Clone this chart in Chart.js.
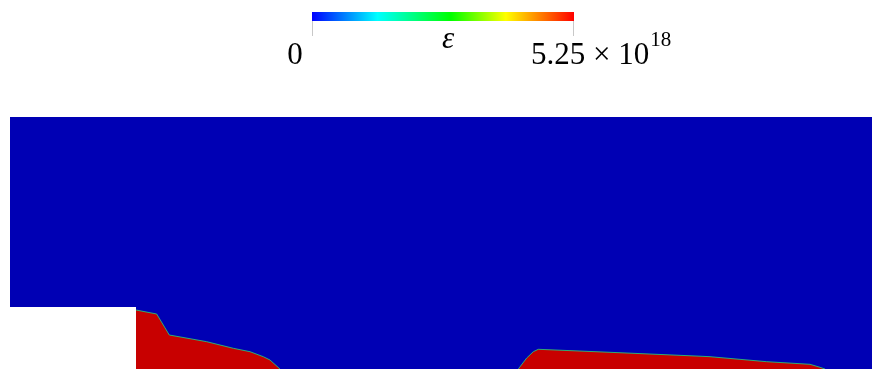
<!DOCTYPE html>
<html>
<head>
<meta charset="utf-8">
<script src="https://cdn.jsdelivr.net/npm/chart.js@4"></script>
<style>
  body { margin: 0; background: #fff; }
  #wrap { position: relative; width: 872px; height: 369px; }
</style>
</head>
<body>
<div id="wrap"><canvas id="field" width="872" height="369"></canvas></div>
<script>
// domain extents (x along flow, y up from the lower wall)
const domainX = [0, 862];
const domainY = [0, 252];

// outer blue field (top edge) and the white step in the lower-left corner
const fieldX = [0, 862];
const fieldY = [252, 252];
const stepX = [0, 126];
const stepY = [62, 62];

// red zone behind the step
const zone1X = [126, 146.7, 159.3, 196.7, 223.3, 240, 253.3, 260, 270];
const zone1Y = [59, 55, 34, 27.3, 20.7, 17.3, 12.3, 9, 0];

// red zone further downstream
const zone2X = [508.3, 516.7, 523.3, 528.3, 600, 690, 700, 756.7, 800, 810, 815];
const zone2Y = [0, 11, 17.3, 19.7, 16.7, 12.8, 12.3, 7.3, 4.7, 1.7, 0];

// colour bar
const barMin = '0';
const barMax = '5.25 \u00d7 10';
const barExp = '18';
const barLabel = '\u03b5';

const blue = '#0000b4';
const red = '#c80000';

const pts = (xs, ys) => xs.map((x, i) => ({ x: x, y: ys[i] }));

const colorbar = {
    id: 'colorbar',
    afterDraw(chart) {
        const ctx = chart.ctx;
        const x0 = 312, x1 = 574, y0 = 12, y1 = 21;
        const g = ctx.createLinearGradient(x0, 0, x1, 0);
        g.addColorStop(0, '#0000ff');
        g.addColorStop(0.25, '#00ffff');
        g.addColorStop(0.53, '#00ff00');
        g.addColorStop(0.74, '#ffff00');
        g.addColorStop(1, '#ff0000');
        ctx.save();
        ctx.fillStyle = g;
        ctx.fillRect(x0, y0, x1 - x0, y1 - y0);
        ctx.strokeStyle = '#c8c8c8';
        ctx.lineWidth = 1;
        ctx.beginPath();
        ctx.moveTo(x0 + 0.5, y1); ctx.lineTo(x0 + 0.5, 36);
        ctx.moveTo(x1 - 0.5, y1); ctx.lineTo(x1 - 0.5, 36);
        ctx.stroke();

        ctx.fillStyle = '#000';
        ctx.textBaseline = 'alphabetic';
        ctx.font = '31px "Liberation Serif"';
        ctx.textAlign = 'center';
        ctx.fillText(barMin, 295, 63.5);
        ctx.textAlign = 'left';
        ctx.fillText(barMax, 531, 63.5);
        const w = ctx.measureText(barMax).width;
        ctx.font = '21px "Liberation Serif"';
        ctx.fillText(barExp, 531 + w + 1, 46);
        ctx.font = 'italic 31px "Liberation Serif"';
        ctx.textAlign = 'center';
        ctx.fillText(barLabel, 448, 47.5);
        ctx.restore();
    }
};

const edge = 'rgba(40,190,120,0.9)';

new Chart(document.getElementById('field'), {
    type: 'scatter',
    data: {
        datasets: [
            { data: pts(zone1X, zone1Y), showLine: true, fill: 'origin', backgroundColor: red, borderColor: edge, borderWidth: 1, pointRadius: 0 },
            { data: pts(zone2X, zone2Y), showLine: true, fill: 'origin', backgroundColor: red, borderColor: edge, borderWidth: 1, pointRadius: 0 },
            { data: pts(stepX, stepY), showLine: true, fill: 'origin', backgroundColor: '#fff', borderColor: '#fff', borderWidth: 0, pointRadius: 0 },
            { data: pts(fieldX, fieldY), showLine: true, fill: 'origin', backgroundColor: blue, borderColor: blue, borderWidth: 0, pointRadius: 0 }
        ]
    },
    options: {
        responsive: false,
        animation: false,
        layout: { padding: { left: 10, top: 117, right: 0, bottom: 0 } },
        plugins: { legend: { display: false }, tooltip: { enabled: false } },
        scales: {
            x: { type: 'linear', min: domainX[0], max: domainX[1], display: false },
            y: { type: 'linear', min: domainY[0], max: domainY[1], display: false }
        }
    },
    plugins: [colorbar]
});
</script>
</body>
</html>
